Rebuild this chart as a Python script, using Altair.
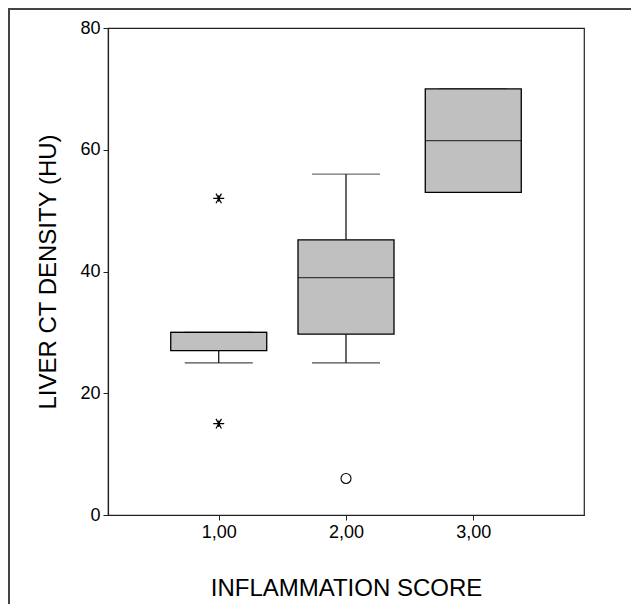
import altair as alt
import pandas as pd

# ---- data ----
groups = [1, 2, 3]
lower_whisker = [25, 25, 53]
q1 = [27, 29.7, 53]
median = [30, 39, 61.5]
q3 = [30, 45.2, 70]
upper_whisker = [30, 56, 70]

extreme_x = [1, 1]
extreme_y = [52, 15]
outlier_x = [2]
outlier_y = [6]

x_ticks = [1, 2, 3]
y_ticks = [0, 20, 40, 60, 80]

box = pd.DataFrame(dict(g=groups, lo=lower_whisker, q1=q1, med=median,
                        q3=q3, hi=upper_whisker))
ext = pd.DataFrame(dict(g=extreme_x, v=extreme_y))
out = pd.DataFrame(dict(g=outlier_x, v=outlier_y))
one = pd.DataFrame({"a": [0]})

FONT = "Liberation Sans"

xscale = alt.Scale(domain=[0.1692, 3.8308], nice=False, zero=False)
yscale = alt.Scale(domain=[0, 80], nice=False, zero=False)

xaxis = alt.Axis(values=x_ticks, title="INFLAMMATION SCORE",
                 labelExpr="replace(format(datum.value, '.2f'), '.', ',')",
                 grid=False, tickSize=5, labelPadding=3, titlePadding=35)
yaxis = alt.Axis(values=y_ticks, title="LIVER CT DENSITY (HU)", grid=False,
                 tickSize=5, labelPadding=3, titlePadding=19)

X = alt.X("g:Q", scale=xscale, axis=xaxis)

base = alt.Chart(box)

whisk_lo = base.mark_rule(color="black", strokeWidth=1.2).encode(
    x=X, y=alt.Y("lo:Q", scale=yscale, axis=yaxis), y2="q1:Q")
whisk_hi = base.mark_rule(color="black", strokeWidth=1.2).encode(
    x=X, y=alt.Y("q3:Q", scale=yscale), y2="hi:Q")
cap_lo = base.mark_tick(orient="horizontal", size=68, thickness=1.3,
                        color="black").encode(x=X, y=alt.Y("lo:Q", scale=yscale))
cap_hi = base.mark_tick(orient="horizontal", size=68, thickness=1.3,
                        color="#333333").encode(x=X, y=alt.Y("hi:Q", scale=yscale))
boxes = base.mark_bar(size=96, fill="#c0c0c0", stroke="black",
                      strokeWidth=1.3).encode(
    x=X, y=alt.Y("q1:Q", scale=yscale), y2="q3:Q")
med = base.mark_tick(orient="horizontal", size=96, thickness=1.4,
                     color="black").encode(x=X, y=alt.Y("med:Q", scale=yscale))

star_path = "M-1,0L1,0M-0.5,-0.87L0.5,0.87M-0.5,0.87L0.5,-0.87M0,-0.6L0,0.6"
extremes = alt.Chart(ext).mark_point(shape=star_path, size=121, filled=False,
                                     stroke="black", strokeWidth=1.2,
                                     opacity=1).encode(
    x=alt.X("g:Q", scale=xscale), y=alt.Y("v:Q", scale=yscale))
outliers = alt.Chart(out).mark_point(shape="circle", size=100, filled=False,
                                     stroke="black", strokeWidth=1.1,
                                     opacity=1).encode(
    x=alt.X("g:Q", scale=xscale), y=alt.Y("v:Q", scale=yscale))

frame_left = alt.Chart(one).mark_rule(color="#444444", strokeWidth=2).encode(
    x=alt.value(-99), y=alt.value(-19), y2=alt.value(700))
frame_top = alt.Chart(one).mark_rule(color="#444444", strokeWidth=2).encode(
    y=alt.value(-19), x=alt.value(-100), x2=alt.value(700))

chart = alt.layer(frame_left, frame_top, whisk_lo, whisk_hi, cap_lo, cap_hi,
                  boxes, med, extremes, outliers).properties(
    width=476, height=487,
    padding={"left": 100, "top": 20, "right": 47, "bottom": 89},
    autosize="none",
    background="white",
).configure_view(stroke="#222222", strokeWidth=1.2).configure_axis(
    labelFont=FONT, titleFont=FONT, labelFontSize=18, titleFontSize=24,
    titleFontWeight="normal", labelColor="black", titleColor="black",
    domainColor="#222222", tickColor="#222222", domainWidth=1.2, tickWidth=1,
)

chart.save("out.html", embed_options={"renderer": "svg", "actions": False})
